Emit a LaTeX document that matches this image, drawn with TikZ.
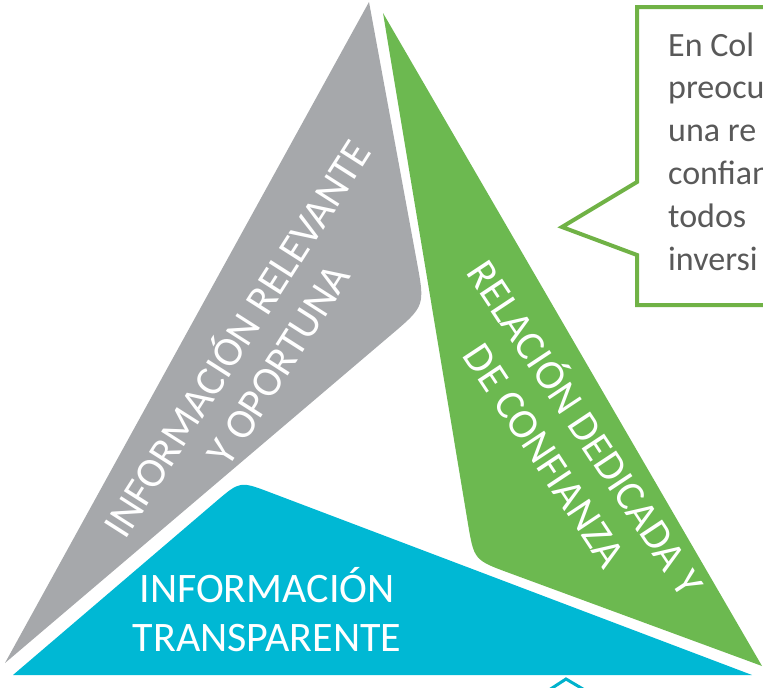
\documentclass[tikz,border=0pt]{standalone}
\usepackage{fontspec}
\setmainfont{Carlito}
\usetikzlibrary{calc}
\definecolor{grayT}{RGB}{166,168,171}
\definecolor{greenT}{RGB}{108,185,80}
\definecolor{blueT}{RGB}{0,184,212}
\definecolor{calloutG}{RGB}{112,178,70}
\definecolor{txtG}{RGB}{89,89,89}
\definecolor{tealL}{RGB}{0,178,204}
\tikzset{
  tritext/.style={text=white, font=\fontsize{42}{49}\selectfont, align=center, inner sep=0pt},
  callouttext/.style={text=txtG, font=\fontsize{34}{40}\selectfont, anchor=base west, inner sep=0pt},
  calloutline/.style={draw=calloutG, line width=4pt, line join=miter}
}
\begin{document}
\begin{tikzpicture}[x=1pt,y=-1pt]
\useasboundingbox (0,0) rectangle (763,688);
\clip (0,0) rectangle (763,688);
% gray triangle
\coordinate (gA) at (369,2);
\coordinate (gB) at (425,306);
\coordinate (gC) at (5,663);
\fill[grayT] (gA) -- ($(gB)!45pt!(gA)$) .. controls (gB) .. ($(gB)!45pt!(gC)$) -- (gC) -- cycle;
% green triangle
\coordinate (rA) at (383,13);
\coordinate (rB) at (474,560);
\coordinate (rC) at (762,666);
\fill[greenT] (rA) -- ($(rB)!38pt!(rA)$) .. controls (rB) .. ($(rB)!38pt!(rC)$) -- (rC) -- cycle;
% blue triangle
\coordinate (bA) at (13,675);
\coordinate (bB) at (240,481);
\coordinate (bC) at (752,675);
\fill[blueT] (bA) -- ($(bB)!32pt!(bA)$) .. controls (bB) .. ($(bB)!32pt!(bC)$) -- (bC) -- cycle;
% labels
\node[tritext, rotate=57.5] (tGray) at (255,350) {INFORMACIÓN RELEVANTE\\Y OPORTUNA};
\node[tritext, rotate=-56.5] (tGreen) at (568,440) {RELACIÓN DEDICADA Y\\DE CONFIANZA};
\node[tritext] (tBlue) at (267,610) {INFORMACIÓN\\TRANSPARENTE};
% callout
\coordinate (k1) at (800,7);
\coordinate (k2) at (637,7);
\coordinate (k3) at (637,182);
\coordinate (k4) at (562,227);
\coordinate (k5) at (637,255);
\coordinate (k6) at (637,305);
\coordinate (k7) at (800,305);
\draw[calloutline] (k1) -- (k2) -- (k3) -- (k4) -- (k5) -- (k6) -- (k7);
\node[callouttext] (c1) at (668,56) {En Col};
\node[callouttext] (c2) at (668,98) {preocu};
\node[callouttext] (c3) at (668,141) {una re};
\node[callouttext] (c4) at (668,184) {confian};
\node[callouttext] (c5) at (668,227) {todos};
\node[callouttext] (c6) at (668,270) {inversi};
% bottom chevron
\coordinate (v1) at (546,692);
\coordinate (v2) at (566,679);
\coordinate (v3) at (588,692);
\draw[tealL, line width=3pt] (v1) -- (v2) -- (v3);
\end{tikzpicture}
\end{document}
